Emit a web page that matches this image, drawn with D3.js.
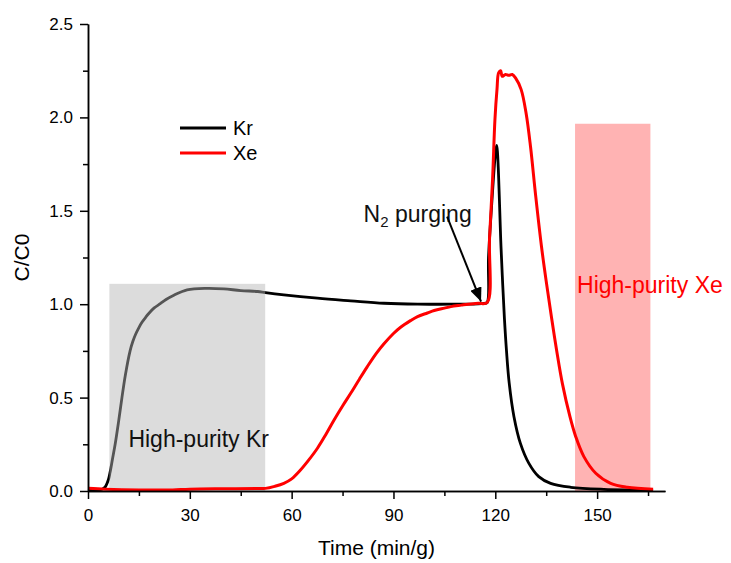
<!DOCTYPE html>
<html>
<head>
<meta charset="utf-8">
<script src="https://cdn.jsdelivr.net/npm/d3@7"></script>
<style>
  body { margin: 0; background: #fff; }
  text { font-family: "Liberation Sans", Arial, sans-serif; }
</style>
</head>
<body>
<div id="chart"></div>
<script>
// values
var krTime = [0, 4, 5, 6, 6.5, 7.2, 8, 9, 10, 11, 12.4, 13.2, 14, 15, 15.9, 17, 17.9, 19.5, 21.3, 23, 25.3, 29.2, 35, 40, 45, 50, 52.3, 57.7, 67.6, 77.4, 87.2, 97.1, 106.9, 112, 116.8, 117.6, 118, 119, 120, 120.4, 121.7, 122.2, 122.7, 123.3, 124.1, 125.5, 127.4, 129.9, 132.8, 136.3, 142.2, 152, 166.5];
var krValue = [0.005, 0.008, 0.02, 0.06, 0.1, 0.17, 0.25, 0.37, 0.5, 0.62, 0.75, 0.8, 0.838, 0.875, 0.903, 0.93, 0.95, 0.98, 1.003, 1.025, 1.048, 1.077, 1.085, 1.082, 1.073, 1.068, 1.062, 1.05, 1.032, 1.018, 1.005, 1.0, 1.0, 1.0, 1.005, 1.008, 1.25, 1.55, 1.8, 1.85, 1.3, 1.1, 0.92, 0.75, 0.577, 0.398, 0.255, 0.148, 0.077, 0.041, 0.02, 0.009, 0.005];

var xeTime = [0, 5, 10, 20, 25, 30, 40, 50, 52.3, 55, 57.7, 60, 62.6, 65, 67.6, 70, 72.5, 75, 77.4, 80, 82.3, 85, 87.2, 90, 92.2, 95, 97.1, 100, 102, 105, 106.9, 110, 112, 115, 117.6, 118.3, 119.2, 119.9, 120.5, 121, 121.6, 122, 123, 124, 125, 126, 127.6, 129.1, 130.4, 131.9, 133.6, 135.1, 136.6, 138.1, 139.8, 142, 143.7, 146.1, 149.6, 154, 158.9, 166.5];
var xeValue = [0.015, 0.01, 0.007, 0.005, 0.006, 0.01, 0.012, 0.013, 0.014, 0.025, 0.041, 0.065, 0.112, 0.165, 0.229, 0.3, 0.38, 0.455, 0.523, 0.6, 0.666, 0.738, 0.788, 0.843, 0.878, 0.912, 0.934, 0.953, 0.966, 0.979, 0.987, 0.995, 1.0, 1.005, 1.009, 1.35, 1.67, 1.99, 2.15, 2.24, 2.25, 2.22, 2.23, 2.225, 2.23, 2.21, 2.15, 2.02, 1.84, 1.58, 1.31, 1.11, 0.925, 0.75, 0.572, 0.398, 0.291, 0.184, 0.095, 0.041, 0.02, 0.009];

var xMajorTicks = [0, 30, 60, 90, 120, 150];
var xMinorTicks = [15, 45, 75, 105, 135, 165];
var yMajorTicks = [0, 0.5, 1.0, 1.5, 2.0, 2.5];
var yMinorTicks = [0.25, 0.75, 1.25, 1.75, 2.25];

// shaded windows [x0, x1, top]
var krWindow = [6.3, 52.2, 1.109];
var xeWindow = [143.5, 165.7, 1.966];

var svgWidth = 731;
var svgHeight = 563;

var margin = {
    top: 24,
    right: 66,
    bottom: 72,
    left: 88
};

var width = svgWidth - margin.left - margin.right;
var height = svgHeight - margin.top - margin.bottom;

var svg = d3.select("#chart")
    .append("svg")
    .attr("width", svgWidth)
    .attr("height", svgHeight);

var chartGroup = svg.append("g")
    .attr("transform", `translate(${margin.left}, ${margin.top})`);

var xLinearScale = d3.scaleLinear().domain([0, 170]).range([0, width]);
var yLinearScale = d3.scaleLinear().domain([0, 2.5]).range([height, 0]);

var krData = krTime.map((t, i) => ({ t: t, v: krValue[i] }));
var xeData = xeTime.map((t, i) => ({ t: t, v: xeValue[i] }));

var line = d3.line()
    .x(d => xLinearScale(d.t))
    .y(d => yLinearScale(d.v))
    .curve(d3.curveCatmullRom.alpha(0.5));

// pink window sits under the curves
chartGroup.append("rect")
    .attr("x", xLinearScale(xeWindow[0]))
    .attr("y", yLinearScale(xeWindow[2]))
    .attr("width", xLinearScale(xeWindow[1]) - xLinearScale(xeWindow[0]))
    .attr("height", yLinearScale(0) - yLinearScale(xeWindow[2]))
    .attr("fill", "#ffb3b3");

chartGroup.append("path")
    .datum(krData)
    .attr("fill", "none")
    .attr("stroke", "#000")
    .attr("stroke-width", 2.8)
    .attr("stroke-linejoin", "round")
    .attr("d", line);

// grey window is laid over the Kr curve
chartGroup.append("rect")
    .attr("x", xLinearScale(krWindow[0]))
    .attr("y", yLinearScale(krWindow[2]))
    .attr("width", xLinearScale(krWindow[1]) - xLinearScale(krWindow[0]))
    .attr("height", yLinearScale(0) - yLinearScale(krWindow[2]))
    .attr("fill", "#b5b5b5")
    .attr("opacity", 0.47);

chartGroup.append("path")
    .datum(xeData)
    .attr("fill", "none")
    .attr("stroke", "#ff0000")
    .attr("stroke-width", 3)
    .attr("stroke-linejoin", "round")
    .attr("d", line);

// axes
var bottomAxis = d3.axisBottom(xLinearScale).tickValues(xMajorTicks).tickSize(8).tickSizeOuter(0).tickPadding(10);
var bottomMinor = d3.axisBottom(xLinearScale).tickValues(xMinorTicks).tickSize(5).tickSizeOuter(0).tickFormat("");
var leftAxis = d3.axisLeft(yLinearScale).tickValues(yMajorTicks).tickSize(8).tickSizeOuter(0).tickPadding(7).tickFormat(d3.format(".1f"));
var leftMinor = d3.axisLeft(yLinearScale).tickValues(yMinorTicks).tickSize(5).tickSizeOuter(0).tickFormat("");

function styleAxis(g) {
    g.selectAll("path, line").attr("stroke", "#000").attr("stroke-width", 1.5);
    g.selectAll("text").attr("fill", "#000").style("font-size", "17px")
        .style("font-family", "'Liberation Sans', Arial, sans-serif");
}

chartGroup.append("g").attr("transform", `translate(0, ${height})`).call(bottomMinor).call(styleAxis);
chartGroup.append("g").attr("transform", `translate(0, ${height})`).call(bottomAxis).call(styleAxis);
chartGroup.append("g").call(leftMinor).call(styleAxis);
chartGroup.append("g").call(leftAxis).call(styleAxis);

// axis titles
chartGroup.append("text")
    .attr("x", width / 2)
    .attr("y", height + 64)
    .attr("text-anchor", "middle")
    .style("font-size", "21px")
    .text("Time (min/g)");

chartGroup.append("text")
    .attr("transform", "rotate(-90)")
    .attr("x", -height / 2)
    .attr("y", -59)
    .attr("text-anchor", "middle")
    .style("font-size", "21px")
    .text("C/C0");

// legend
var legendItems = [{ name: "Kr", color: "#000" }, { name: "Xe", color: "#ff0000" }];
var legend = chartGroup.append("g")
    .attr("transform", `translate(${180 - margin.left}, ${128 - margin.top})`);

legend.selectAll("line")
    .data(legendItems)
    .enter().append("line")
    .attr("x1", 0)
    .attr("x2", 46)
    .attr("y1", (d, i) => i * 25)
    .attr("y2", (d, i) => i * 25)
    .attr("stroke", d => d.color)
    .attr("stroke-width", 3);

legend.selectAll("text")
    .data(legendItems)
    .enter().append("text")
    .attr("x", 53)
    .attr("y", (d, i) => i * 25 + 7)
    .style("font-size", "20px")
    .text(d => d.name);

// annotations
chartGroup.append("text")
    .attr("x", xLinearScale(krWindow[0]) + 19)
    .attr("y", yLinearScale(0.237))
    .style("font-size", "23px")
    .attr("fill", "#111")
    .text("High-purity Kr");

chartGroup.append("text")
    .attr("x", xLinearScale(xeWindow[0]) + 2)
    .attr("y", yLinearScale(1.059))
    .style("font-size", "23px")
    .attr("fill", "#ff0000")
    .text("High-purity Xe");

var purge = chartGroup.append("text")
    .attr("x", xLinearScale(81.2))
    .attr("y", yLinearScale(1.442))
    .style("font-size", "23px")
    .attr("fill", "#111");
purge.append("tspan").text("N");
purge.append("tspan").attr("dy", 5).style("font-size", "15px").text("2");
purge.append("tspan").attr("dy", -5).text(" purging");

svg.append("defs").append("marker")
    .attr("id", "arrowHead")
    .attr("viewBox", "0 0 14 12")
    .attr("refX", 14)
    .attr("refY", 6)
    .attr("markerWidth", 14)
    .attr("markerHeight", 12)
    .attr("markerUnits", "userSpaceOnUse")
    .attr("orient", "auto")
    .append("path")
    .attr("d", "M0,0 L14,6 L0,12 Z")
    .attr("fill", "#000");

var arrowFrom = [105.8, 1.469];
var arrowTo = [115.8, 1.014];
chartGroup.append("line")
    .attr("x1", xLinearScale(arrowFrom[0]))
    .attr("y1", yLinearScale(arrowFrom[1]))
    .attr("x2", xLinearScale(arrowTo[0]))
    .attr("y2", yLinearScale(arrowTo[1]))
    .attr("stroke", "#000")
    .attr("stroke-width", 2)
    .attr("marker-end", "url(#arrowHead)");
</script>
</body>
</html>
